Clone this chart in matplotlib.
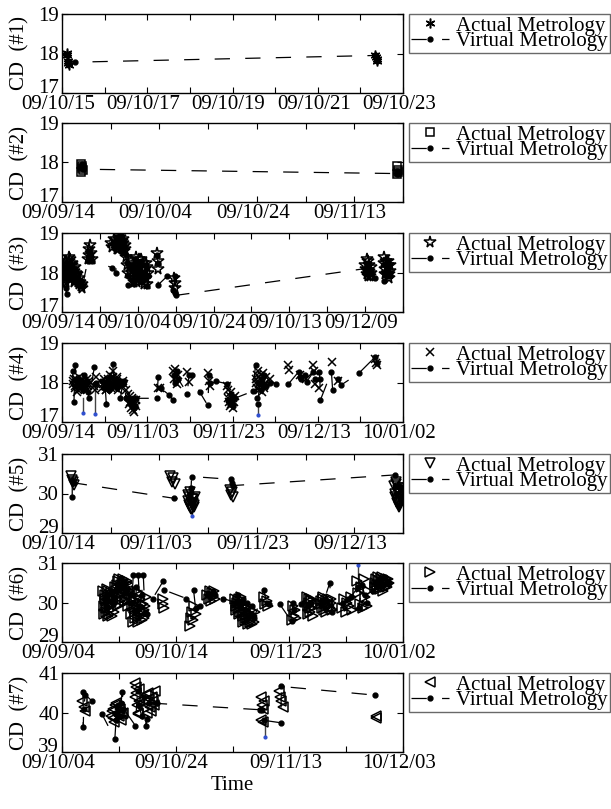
import matplotlib
matplotlib.use("Agg")
import matplotlib.pyplot as plt
from matplotlib.transforms import ScaledTranslation
import numpy as np

plt.rcParams["font.family"] = ["Liberation Serif", "DejaVu Serif"]
plt.rcParams["lines.scale_dashes"] = False

# ---- panel 1 ----
am_t1 = [0.12, 0.12, 0.14, 0.14, 0.16, 7.34, 7.36, 7.38, 7.4]
am_v1 = [18.02, 17.96, 17.82, 17.75, 17.7, 17.95, 17.9, 17.85, 17.8]
vm_t1 = [0.12, 0.14, 0.3, 7.34, 7.36, 7.38, 7.4]
vm_v1 = [17.95, 17.8, 17.78, 17.95, 17.9, 17.86, 17.82]

# ---- panel 2 ----
am_t2 = [3.9, 4.0, 4.1, 4.2, 4.3, 68.7, 68.8, 68.9, 69.0]
am_v2 = [17.75, 17.95, 17.85, 17.9, 17.8, 17.9, 17.72, 17.82, 17.75]
vm_t2 = [3.9, 4.0, 4.05, 4.1, 4.2, 4.3, 4.4, 68.7, 68.8, 68.9, 69.0]
vm_v2 = [17.9, 17.85, 17.95, 17.88, 17.92, 17.86, 17.83, 17.72, 17.78, 17.7, 17.76]

# ---- panel 3 ----
am_t3 = [0.2, 0.5, 0.8, 1.0, 1.2, 1.5, 1.8, 2.0, 2.3, 2.6, 2.9, 3.2, 3.5, 3.8, 4.2, 4.6, 5.0, 5.4,
         6.8, 7.0, 7.2, 7.4, 7.6, 8.0,
         14.4, 14.6, 14.8, 15.0, 15.2, 15.4, 15.6, 15.8, 16.0, 16.2, 16.4, 16.6,
         16.9, 17.1, 17.3,
         18.2, 18.5, 18.8, 19.1, 19.4, 19.7, 20.0, 20.3, 20.6, 20.9, 21.2, 21.5, 21.8, 22.1, 22.4, 22.7,
         25.2, 25.3, 25.4,
         29.6, 29.8, 29.9,
         80.1, 80.4, 80.7, 81.0, 81.3, 81.6,
         84.9, 85.2, 85.5, 85.8, 86.1, 86.4, 86.7]
am_v3 = [18.05, 17.9, 18.15, 17.75, 18.2, 18.0, 18.3, 17.85, 18.1, 18.25, 17.95, 18.05, 17.8, 17.9, 17.75, 17.85, 17.65, 17.6,
         18.35, 18.6, 18.45, 18.7, 18.5, 18.35,
         18.7, 18.8, 18.6, 18.85, 18.75, 18.9, 18.7, 18.8, 18.65, 18.85, 18.55, 18.7,
         18.4, 18.2, 18.0,
         18.3, 17.9, 18.1, 17.75, 18.4, 18.0, 17.85, 18.2, 17.95, 18.35, 17.8, 18.1, 17.9, 18.25, 17.7, 18.0,
         18.5, 18.3, 18.1,
         17.86, 17.73, 17.6,
         18.2, 17.95, 18.3, 18.05, 17.9, 18.15,
         18.25, 18.1, 18.3, 18.0, 18.2, 17.85, 18.05]
am_t3x = [0.35, 0.65, 0.95, 1.35, 1.65, 1.95, 2.15, 2.45, 2.75, 3.05, 3.35, 3.65, 4.0, 4.4, 4.8, 5.2,
          0.4, 1.1, 2.2, 3.0,
          13.0, 13.3, 13.6, 13.9, 14.5, 14.9, 15.3, 15.7, 16.1, 16.5,
          18.35, 18.65, 18.95, 19.25, 19.55, 19.85, 20.15, 20.45, 20.75, 21.05, 21.35, 21.65,
          21.95, 22.25, 22.55,
          80.25, 80.55, 80.85, 81.15, 81.45, 85.05, 85.35, 85.65, 85.95, 86.25, 86.55]
am_v3x = [18.2, 17.7, 18.0, 18.1, 17.9, 18.4, 18.0, 17.95, 18.2, 17.75, 18.15, 18.0, 17.95, 17.7, 17.75, 17.7,
          17.8, 18.3, 18.35, 18.1,
          18.75, 18.65, 18.85, 18.7, 18.6, 18.75, 18.8, 18.65, 18.75, 18.6,
          18.0, 18.25, 17.85, 18.05, 18.15, 17.75, 18.1, 18.35, 17.8, 18.0, 18.25, 17.7,
          18.1, 17.85, 18.15,
          18.1, 18.35, 17.9, 18.2, 18.0, 18.4, 17.95, 18.15, 18.3, 17.95, 18.2]
vm_t3 = [0.2, 0.5, 0.8, 1.0, 1.2, 1.5, 1.8, 2.0, 2.3, 2.6, 2.9, 3.2, 3.5, 3.8, 4.2, 4.6, 5.0, 5.4,
         6.8, 7.0, 7.2, 7.4, 7.6, 8.0, 13.3, 14.2,
         14.4, 14.6, 14.8, 15.0, 15.2, 15.4, 15.6, 15.8, 16.0, 16.2, 16.4, 16.6,
         16.9, 17.1, 17.3, 17.5,
         18.2, 18.5, 18.8, 19.1, 19.4, 19.7, 20.0, 20.3, 20.6, 20.9, 21.2, 21.5, 21.8, 22.1, 22.4, 22.7,
         25.2, 25.3, 25.4,
         27.7, 29.4, 29.8, 29.9, 30.0,
         80.1, 80.4, 80.7, 81.0, 81.3, 81.6, 82.5, 84.9, 85.2, 85.5, 85.8, 86.1, 86.4, 86.7]
vm_v3 = [17.85, 18.0, 18.1, 17.6, 17.45, 17.95, 18.2, 17.9, 18.15, 18.1, 17.9, 18.0, 17.85, 17.8, 17.8, 17.7, 17.7, 17.65,
         18.3, 18.45, 18.55, 18.5, 18.4, 18.3, 18.12, 17.99,
         18.65, 18.75, 18.7, 18.8, 18.7, 18.95, 18.75, 18.85, 18.6, 18.8, 18.5, 18.65,
         18.45, 18.25, 17.9, 17.69,
         18.2, 17.8, 18.15, 17.7, 18.3, 18.05, 17.9, 18.25, 17.85, 18.3, 17.75, 18.0, 17.95, 18.2, 17.65, 17.9,
         18.45, 18.25, 17.69,
         17.9, 17.56, 17.9, 17.47, 17.42,
         18.1, 18.05, 18.2, 17.95, 18.1, 18.0, 17.86, 17.78, 18.0, 18.2, 17.9, 18.05, 17.95, 17.9]

# ---- panel 4 ----
am_t4 = [2.5, 2.8, 3.1, 3.4, 3.7, 4.0, 4.3, 4.6, 4.9, 5.2, 5.5, 5.8, 6.1, 6.4,
         7.6, 7.8, 8.0,
         9.5, 9.8, 10.1, 10.4, 10.7, 11.0, 11.3, 11.6, 11.9, 12.2, 12.5, 12.8, 13.1, 13.4, 13.7, 14.2, 14.6, 15.0,
         15.6, 15.9, 16.2, 16.5, 16.8, 17.1, 17.4,
         22.5, 23.0,
         26.0, 26.3, 26.6, 26.9, 27.2,
         29.4, 29.8,
         34.2, 34.5, 34.8,
         38.7, 39.0, 39.3, 39.6, 39.9, 40.2, 40.5,
         45.4, 45.7, 46.0, 46.3, 46.6, 46.9, 47.2, 47.5, 47.8,
         48.9, 53.0, 53.2, 55.8, 57.2, 59.0, 59.2, 59.4, 60.4, 63.3, 64.8,
         73.5, 73.7, 73.9]
am_v4 = [17.95, 18.1, 17.85, 18.0, 17.8, 18.15, 17.9, 18.05, 17.95, 18.0, 17.85, 18.1, 17.9, 18.05,
         17.9, 17.8, 18.15,
         17.85, 18.0, 17.9, 17.8, 18.1, 17.95, 18.2, 17.85, 18.3, 18.05, 17.9, 18.15, 17.8, 18.0, 17.9, 18.05, 17.95, 17.8,
         17.7, 17.5, 17.35, 17.6, 17.25, 17.45, 17.55,
         17.85, 17.85,
         18.3, 18.1, 18.35, 17.95, 18.2,
         18.27, 18.02,
         18.25, 18.05, 17.9,
         17.9, 17.6, 17.4, 17.75, 17.5, 17.35, 17.65,
         18.1, 17.85, 18.3, 17.95, 18.2, 17.75, 18.05, 17.9, 18.15,
         18.1, 18.44, 18.31, 18.2, 18.1, 18.44, 18.3, 17.95, 17.85, 18.53, 18.05,
         18.6, 18.5, 18.45]
am_t4x = [2.65, 2.95, 3.25, 3.55, 3.85, 4.15, 4.45, 4.75, 5.05, 5.35, 5.65, 5.95, 6.25,
          9.65, 9.95, 10.25, 10.55, 10.85, 11.15, 11.45, 11.75, 12.05, 12.35, 12.65, 12.95, 13.25,
          15.75, 16.05, 16.35, 16.65, 16.95, 17.25,
          38.85, 39.15, 39.45, 39.75, 40.05, 40.35,
          45.55, 45.85, 46.15, 46.45, 46.75, 47.05, 47.35, 47.65]
am_v4x = [18.05, 17.9, 18.1, 17.75, 17.95, 18.0, 17.85, 18.1, 18.05, 17.9, 18.0, 17.8, 17.95,
          17.95, 18.1, 17.8, 17.95, 18.05, 17.9, 18.1, 18.0, 18.15, 17.85, 18.0, 18.1, 17.95,
          17.45, 17.65, 17.55, 17.3, 17.5, 17.4,
          17.8, 17.5, 17.65, 17.45, 17.6, 17.5,
          18.0, 18.2, 17.8, 18.1, 17.9, 18.25, 17.85, 18.0]
vm_t4 = [2.5, 2.8, 3.1, 3.4, 3.7, 4.0, 4.3, 4.6, 4.9, 5.2, 5.5, 5.8, 6.1, 6.4,
         7.6, 7.8, 8.0,
         9.5, 9.8, 10.1, 10.4, 10.7, 11.0, 11.3, 11.6, 11.9, 12.2, 12.5, 12.8, 13.1, 13.4, 13.7, 14.2, 14.6, 15.0,
         15.6, 15.9, 16.2, 16.5, 16.8, 17.1, 17.4,
         22.2, 22.6, 23.2, 25.2,
         26.0, 26.3, 26.6, 26.9, 27.2,
         29.4, 29.8, 30.4, 32.3,
         34.2, 34.5, 34.8, 36.2,
         38.6, 39.0, 39.3, 39.6, 39.9, 40.2, 40.5,
         44.8, 45.4, 45.7, 46.0, 46.3, 46.6, 46.9, 47.2, 47.5, 47.8,
         48.9, 50.2, 53.1, 55.5, 55.8, 56.1, 57.0, 57.4, 59.0, 59.3,
         60.3, 60.5, 60.6, 63.2, 63.5, 64.8, 65.4, 69.6,
         73.5, 73.8]
vm_v4 = [18.3, 17.5, 18.44, 17.9, 18.1, 17.95, 18.05, 17.85, 17.8, 18.2, 17.95, 18.05, 17.75, 17.6,
         18.4, 17.95, 18.0,
         18.05, 17.85, 17.95, 17.45, 18.0, 17.8, 18.15, 17.9, 18.48, 17.95, 18.1, 17.85, 17.9, 18.05, 17.6, 17.95, 18.05, 17.6,
         17.6, 17.55, 17.45, 17.5, 17.35, 17.4, 17.6,
         17.6, 18.15, 17.85, 17.68,
         17.55, 18.2, 18.0, 18.3, 18.1,
         17.72, 18.2, 18.19, 17.76,
         17.42, 18.2, 18.0, 18.03,
         17.97, 17.55, 17.45, 17.7, 17.5, 17.4, 17.6,
         17.78, 18.44, 17.6, 17.45, 18.0, 17.8, 18.1, 17.95, 18.2, 17.9,
         18.0, 17.97, 17.96, 18.27, 18.15, 18.1, 18.2, 18.02, 18.27, 18.1,
         18.27, 18.1, 17.55, 18.27, 17.8, 18.1, 17.93, 18.23,
         18.65, 18.5]
blue_t4 = [5.0, 7.7, 46.0]
blue_hi4 = [17.6, 17.95, 17.45]
blue_lo4 = [17.22, 17.2, 17.18]

# ---- panel 5 ----
am_t5 = [1.8, 2.0, 2.2, 2.4,
         22.2, 22.5, 22.8, 23.1,
         25.8, 26.0, 26.2, 26.4, 26.6, 26.8, 27.0, 27.2,
         34.4, 34.6, 34.8, 35.0,
         68.2, 68.4, 68.6, 68.8, 69.0, 69.2, 69.4, 69.6, 69.8]
am_v5 = [30.45, 30.35, 30.28, 30.22,
         30.45, 30.3, 30.4, 30.25,
         29.95, 29.7, 30.05, 29.6, 29.85, 29.75, 29.65, 29.9,
         30.1, 29.95, 30.05, 29.9,
         30.2, 29.9, 30.3, 29.75, 30.1, 29.65, 30.0, 29.85, 30.15]
am_t5x = [25.9, 26.1, 26.3, 26.5, 26.7, 26.9, 27.1,
          68.3, 68.5, 68.7, 68.9, 69.1, 69.3, 69.5, 69.7]
am_v5x = [29.8, 29.9, 29.65, 29.75, 29.6, 29.85, 29.7,
          30.0, 30.25, 29.85, 30.05, 29.7, 30.15, 29.9, 30.05]
vm_t5 = [2.1, 2.1, 2.4, 22.9, 26.0, 26.3, 26.5, 26.6, 34.6, 34.8, 35.0,
         68.3, 68.6, 68.9, 69.2, 69.5, 69.8]
vm_v5 = [30.35, 29.9, 30.27, 29.88, 29.85, 30.0, 30.15, 30.43, 30.36, 30.26, 30.2,
         30.47, 30.0, 29.7, 30.2, 29.9, 30.1]
blue_t5 = [26.6]
blue_hi5 = [29.6]
blue_lo5 = [29.42]

# ---- panel 6 ----
am_t6 = [14.6, 14.9, 15.2, 15.5, 15.8, 16.1, 16.4, 16.7, 17.0, 17.3, 17.6, 17.9, 18.2,
         18.8, 19.2, 19.6, 20.0, 20.4, 20.8, 21.2, 21.6, 22.0, 22.4, 22.8, 23.2, 23.6,
         24.2, 24.6, 25.0, 25.4, 25.8, 26.2, 26.6, 27.0, 27.4, 27.8, 28.2, 28.6, 29.0, 29.4,
         35.5, 35.7, 35.9,
         45.0, 45.4, 45.8, 46.2, 46.6, 47.0,
         51.2, 51.6, 52.0, 52.4, 52.8, 53.2, 53.6, 54.0,
         61.0, 61.4, 61.8, 62.2, 62.6, 63.0, 63.4, 63.8, 64.2, 64.6, 65.0, 65.4, 65.8, 66.2, 66.6, 67.0, 67.4, 67.8,
         71.2, 71.6, 72.0, 72.4,
         80.8, 81.2, 81.6, 82.0, 82.4,
         86.2, 86.6, 87.0, 87.4, 87.8, 88.2,
         91.0, 91.5, 92.0, 92.5, 93.0, 93.5, 94.0, 94.5, 95.0,
         98.6, 99.2, 99.8, 100.4, 101.0, 101.6, 102.2,
         103.8, 104.3, 104.8, 105.3, 105.8, 106.3, 106.8, 107.3, 107.8,
         110.0, 110.5, 111.0, 111.5, 112.0, 112.5, 113.0, 113.5, 114.0, 114.5, 115.0]
am_v6 = [30.3, 29.7, 30.1, 29.85, 30.35, 29.65, 30.0, 30.2, 29.8, 30.25, 29.95, 30.1, 29.75,
         30.4, 30.1, 30.55, 30.2, 29.95, 30.45, 30.25, 30.6, 30.05, 30.35, 30.5, 29.9, 30.3,
         30.2, 29.9, 29.5, 30.05, 29.75, 30.3, 29.6, 29.85, 30.1, 29.7, 29.55, 29.95, 29.8, 30.15,
         30.1, 29.95, 29.85,
         29.4, 29.6, 29.75, 29.55, 29.9, 29.7,
         30.2, 30.1, 30.3, 30.05, 30.25, 30.15, 30.3, 30.1,
         30.1, 29.8, 30.05, 29.7, 29.95, 30.15, 29.75, 29.5, 29.9, 29.6, 29.85, 29.45, 29.7, 29.55, 29.8, 29.65, 29.5, 29.75,
         30.15, 29.95, 30.05, 29.9,
         29.55, 29.9, 29.65, 29.8, 29.6,
         30.15, 29.7, 30.0, 29.85, 30.1, 29.65,
         30.05, 29.85, 30.15, 29.95, 29.75, 30.1, 29.9, 30.0, 29.8,
         29.85, 30.1, 29.75, 30.0, 29.9, 30.15, 29.8,
         30.55, 30.25, 29.95, 30.4, 29.85, 30.6, 30.15, 29.9, 30.3,
         30.4, 30.6, 30.35, 30.55, 30.45, 30.65, 30.3, 30.5, 30.6, 30.4, 30.5]
am_t6x = [14.75, 15.05, 15.35, 15.65, 15.95, 16.25, 16.55, 16.85, 17.15, 17.45, 17.75, 18.05,
          19.0, 19.4, 19.8, 20.2, 20.6, 21.0, 21.4, 21.8, 22.2, 22.6, 23.0, 23.4,
          24.4, 24.8, 25.2, 25.6, 26.0, 26.4, 26.8, 27.2, 27.6, 28.0, 28.4, 28.8, 29.2,
          61.2, 61.6, 62.0, 62.4, 62.8, 63.2, 63.6, 64.0, 64.4, 64.8, 65.2, 65.6, 66.0, 66.4, 66.8,
          86.4, 86.8, 87.2, 87.6, 88.0,
          91.25, 91.75, 92.25, 92.75, 93.25, 93.75, 94.25, 94.75,
          110.25, 110.75, 111.25, 111.75, 112.25, 112.75, 113.25, 113.75, 114.25, 114.75]
am_v6x = [29.9, 30.2, 29.75, 30.05, 29.85, 30.3, 29.7, 30.1, 29.9, 30.15, 29.65, 30.0,
          30.3, 30.45, 29.9, 30.6, 30.35, 30.1, 30.5, 30.25, 30.4, 30.15, 30.55, 30.05,
          29.7, 30.1, 29.85, 29.6, 30.15, 29.9, 29.5, 30.25, 29.65, 29.95, 29.75, 29.6, 29.9,
          29.9, 30.0, 29.85, 30.1, 29.75, 29.95, 29.65, 29.8, 29.55, 29.75, 29.6, 29.9, 29.5, 29.7, 29.45,
          29.9, 30.1, 29.75, 30.05, 29.85,
          29.95, 30.1, 29.8, 30.05, 29.9, 30.0, 29.85, 30.1,
          30.5, 30.45, 30.65, 30.35, 30.6, 30.45, 30.55, 30.4, 30.5, 30.6]
vm_t6 = [14.8, 15.4, 16.0, 16.6, 17.2, 17.8, 18.3,
         19.0, 19.8, 20.6, 21.4, 22.2, 23.0, 23.8,
         24.5, 25.1, 25.6, 26.2, 26.8, 27.4, 28.0, 28.6, 29.2, 29.8, 31.9,
         35.6, 35.8,
         43.8, 46.3, 47.0, 48.5,
         51.4, 52.2, 53.0, 53.8, 56.7,
         61.2, 62.0, 62.8, 63.6, 64.4, 65.2, 66.0, 66.8, 67.6,
         71.0, 72.0, 73.0,
         76.7, 80.8, 81.2, 81.8, 84.0,
         86.5, 87.5,
         91.2, 92.4, 94.2, 95.0,
         99.0, 100.5, 101.8,
         104.0, 104.5, 105.5, 106.5, 107.5,
         109.5, 110.5, 111.5, 112.5, 113.5, 114.5, 115.2]
vm_v6 = [30.1, 29.9, 30.2, 30.05, 30.3, 29.95, 30.15,
         30.3, 30.45, 30.62, 30.4, 30.5, 30.35, 30.2,
         30.0, 30.7, 29.8, 30.4, 30.7, 29.9, 30.2, 30.7, 29.75, 29.7, 30.1,
         30.54, 30.32,
         30.1, 30.32, 29.85, 29.9,
         30.25, 30.15, 30.3, 30.2, 30.1,
         30.0, 30.2, 29.9, 30.1, 29.8, 30.0, 29.7, 29.9, 29.6,
         30.32, 30.0, 29.95,
         29.95, 29.52, 30.0, 29.82, 29.95,
         29.9, 30.0,
         29.95, 30.1, 30.49, 29.75,
         30.0, 30.1, 30.15,
         30.38, 29.85, 30.45, 30.2, 30.0,
         30.28, 30.5, 30.6, 30.45, 30.65, 30.55, 30.5]
blue_t6 = [104.3]
blue_hi6 = [30.38]
blue_lo6 = [30.96]

# ---- panel 7 ----
am_t7 = [3.6, 3.8, 4.0,
         8.6, 8.9, 9.2, 9.5, 9.8, 10.1, 10.4, 10.7,
         12.8, 13.0, 13.2, 13.4, 13.6,
         14.6, 14.9, 15.2, 15.5, 15.8, 16.1, 16.4,
         35.0, 35.2, 35.4, 35.6, 35.0, 35.3,
         38.2, 38.4, 38.6, 38.8,
         55.2, 55.3]
am_v7 = [40.3, 40.15, 40.05,
         39.9, 40.1, 39.75, 40.25, 39.95, 40.15, 39.8, 40.0,
         40.75, 40.5, 40.2, 39.95, 40.6,
         40.3, 40.0, 40.5, 40.15, 40.4, 40.2, 40.55,
         40.4, 40.2, 40.1, 40.3, 39.8, 39.75,
         40.55, 40.4, 40.3, 40.15,
         39.9, 39.85]
am_t7x = [8.75, 9.05, 9.35, 9.65, 9.95, 10.25, 10.55,
          12.9, 13.1, 13.3, 13.5, 14.75, 15.05, 15.35, 15.65, 15.95]
am_v7x = [40.05, 39.85, 40.2, 40.0, 39.9, 40.1, 39.95,
          40.4, 40.65, 40.0, 40.3, 40.45, 40.2, 40.35, 40.05, 40.3]
vm_t7 = [3.7, 3.75, 3.8, 4.1, 5.2,
         7.0, 9.3, 9.5, 9.8, 10.1, 10.4, 10.6, 10.8,
         12.9, 13.3, 13.6, 14.0,
         14.5, 14.8, 15.0, 15.3, 16.7,
         34.8, 35.2, 35.6, 38.5, 38.6,
         55.0]
vm_v7 = [40.53, 39.63, 40.1, 40.45, 40.3,
         39.97, 39.33, 39.8, 40.2, 39.9, 40.25, 40.53, 40.1,
         39.67, 40.55, 40.2, 39.9,
         40.4, 39.67, 39.84, 40.25, 40.23,
         40.07, 40.06, 39.8, 39.74, 40.66,
         40.44]
blue_t7 = [35.7]
blue_hi7 = [39.8]
blue_lo7 = [39.37]

# axis setup: span in days, tick step, labels on every second tick
spans = [8, 70, 90, 80, 70, 120, 60]
steps = [1, 10, 10, 10, 10, 20, 10]
tick_labels = [
    ["09/10/15", "09/10/17", "09/10/19", "09/10/21", "09/10/23"],
    ["09/09/14", "09/10/04", "09/10/24", "09/11/13"],
    ["09/09/14", "09/10/04", "09/10/24", "09/10/13", "09/12/09"],
    ["09/09/14", "09/11/03", "09/11/23", "09/12/13", "10/01/02"],
    ["09/10/14", "09/11/03", "09/11/23", "09/12/13"],
    ["09/09/04", "09/10/14", "09/11/23", "10/01/02"],
    ["09/10/04", "09/10/24", "09/11/13", "10/12/03"],
]
y_lows = [17, 17, 17, 17, 29, 29, 39]
markers = [(6, 2, 0), "s", "*", "x", "v", ">", "<"]
marker_sizes = [7, 5.5, 8.5, 5.5, 7, 7, 7]

am_t = [am_t1, am_t2, am_t3 + am_t3x, am_t4 + am_t4x, am_t5 + am_t5x, am_t6 + am_t6x, am_t7 + am_t7x]
am_v = [am_v1, am_v2, am_v3 + am_v3x, am_v4 + am_v4x, am_v5 + am_v5x, am_v6 + am_v6x, am_v7 + am_v7x]
vm_t = [vm_t1, vm_t2, vm_t3, vm_t4, vm_t5, vm_t6, vm_t7]
vm_v = [vm_v1, vm_v2, vm_v3, vm_v4, vm_v5, vm_v6, vm_v7]
blue_t = [[], [], [], blue_t4, blue_t5, blue_t6, blue_t7]
blue_hi = [[], [], [], blue_hi4, blue_hi5, blue_hi6, blue_hi7]
blue_lo = [[], [], [], blue_lo4, blue_lo5, blue_lo6, blue_lo7]

W, H = 611, 809
fig = plt.figure(figsize=(W / 100, H / 100), dpi=100)

panel_tops = [14, 123, 233, 343, 454, 563, 673]
ax_h = 79
left_px, width_px = 62, 341
shift_left = ScaledTranslation(-4 / 100, 0, fig.dpi_scale_trans)

for i in range(7):
    top = panel_tops[i]
    ax = fig.add_axes([left_px / W, 1 - (top + ax_h) / H, width_px / W, ax_h / H])

    for t, hi, lo in zip(blue_t[i], blue_hi[i], blue_lo[i]):
        ax.plot([t, t], [hi, lo], color="#444444", lw=1.0)
        ax.plot([t], [lo], marker="o", ms=2, color="#3050d0", ls="")

    ax.plot(am_t[i], am_v[i], ls="", marker=markers[i], ms=marker_sizes[i],
            mfc="none", mec="black", mew=1.1, label="Actual Metrology")
    ax.plot(vm_t[i], vm_v[i], color="black", lw=0.9, ls=(0, (11, 11)),
            marker="o", ms=3.5, mfc="black", mec="black", label="Virtual Metrology")

    ax.set_xlim(0, spans[i])
    ax.set_ylim(y_lows[i], y_lows[i] + 2)
    ticks = np.arange(0, spans[i] + 0.001, steps[i])
    ax.set_xticks(ticks)
    labs = []
    for k in range(len(ticks)):
        labs.append(tick_labels[i][k // 2] if k % 2 == 0 else "")
    ax.set_xticklabels(labs)
    yt = [y_lows[i], y_lows[i] + 1, y_lows[i] + 2]
    ax.set_yticks(yt)
    ylabs = ax.set_yticklabels([str(v) for v in yt])
    ylabs[0].set_va("baseline")
    ax.tick_params(direction="in", top=True, right=True, length=4, width=0.8,
                   labelsize=15, pad=2)
    ax.tick_params(axis="x", pad=1.5)
    for lab in ax.get_xticklabels():
        lab.set_transform(lab.get_transform() + shift_left)
    for sp in ax.spines.values():
        sp.set_linewidth(1.0)
    ax.set_ylabel("CD  (#%d)" % (i + 1), fontsize=15)
    ax.yaxis.set_label_coords(-0.095, 0.5)

    leg = ax.legend(loc="upper left", bbox_to_anchor=(1.018, 1.0), borderaxespad=0,
                    fontsize=15, frameon=True, fancybox=False, numpoints=1,
                    labelspacing=-0.2, borderpad=0.1, handlelength=1.8,
                    handletextpad=0.35)
    leg.get_frame().set_edgecolor("#444444")
    leg.get_frame().set_linewidth(1.0)

fig.text((left_px + width_px / 2) / W, 1 - 785 / H, "Time", ha="center", va="center",
         fontsize=15)

fig.savefig("out.png", dpi=100)
